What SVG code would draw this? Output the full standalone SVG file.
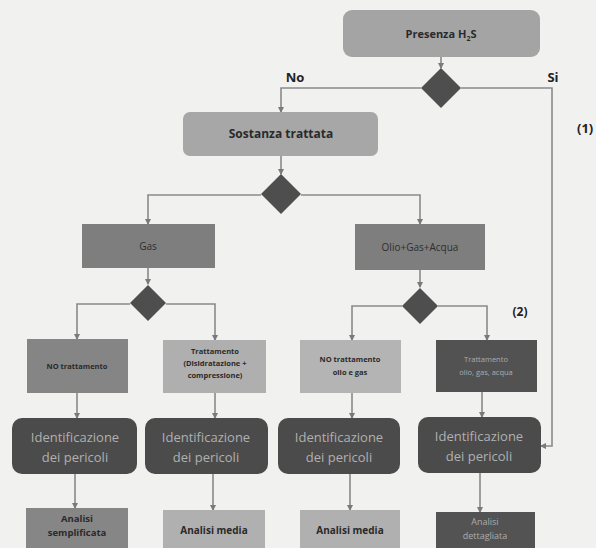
<svg xmlns="http://www.w3.org/2000/svg" width="596" height="548" viewBox="0 0 596 548">
<style>
  text { font-family: "Open Sans", "Liberation Sans", sans-serif; text-anchor: middle; }
  .b { font-weight: bold; fill: #2a2a2a; }
  .lt { fill: #acacac; }
  .idt { fill: #b0b0b0; font-size: 13px; }
  .dk { fill: #2e2e2e; }
  .conn { fill: none; stroke: #8a8a8a; stroke-width: 1.6; }
  .dia { fill: #4e4e4e; }
  .lbl { font-weight: bold; fill: #222; font-size: 13px; }
</style>
<defs>
  <marker id="arr" viewBox="0 0 6 6" refX="5" refY="3" markerWidth="4" markerHeight="4" orient="auto">
    <path d="M0,0 L6,3 L0,6 z" fill="#7a7a7a"/>
  </marker>
</defs>
<rect width="596" height="548" fill="#f1f1f0"/>

<g id="connectors">
  <line class="conn" x1="441" y1="57" x2="441" y2="68" marker-end="url(#arr)"/>
  <polyline class="conn" points="421,88 281,88 281,112" marker-end="url(#arr)"/>
  <polyline class="conn" points="461,88 552,88 552,446 541,446" marker-end="url(#arr)"/>
  <line class="conn" x1="281" y1="156" x2="281" y2="174" marker-end="url(#arr)"/>
  <polyline class="conn" points="261,195 148,195 148,224" marker-end="url(#arr)"/>
  <polyline class="conn" points="301,195 420,195 420,224" marker-end="url(#arr)"/>
  <line class="conn" x1="148" y1="268" x2="148" y2="284" marker-end="url(#arr)"/>
  <line class="conn" x1="420" y1="270" x2="420" y2="287" marker-end="url(#arr)"/>
  <polyline class="conn" points="130,304 77,304 77,339" marker-end="url(#arr)"/>
  <polyline class="conn" points="166,304 215,304 215,340" marker-end="url(#arr)"/>
  <polyline class="conn" points="402,306 352,306 352,340" marker-end="url(#arr)"/>
  <polyline class="conn" points="438,306 487,306 487,340" marker-end="url(#arr)"/>
  <line class="conn" x1="77" y1="393" x2="77" y2="418" marker-end="url(#arr)"/>
  <line class="conn" x1="215" y1="393" x2="215" y2="418" marker-end="url(#arr)"/>
  <line class="conn" x1="352" y1="393" x2="352" y2="418" marker-end="url(#arr)"/>
  <line class="conn" x1="482" y1="392" x2="482" y2="417" marker-end="url(#arr)"/>
  <line class="conn" x1="75" y1="474" x2="75" y2="508" marker-end="url(#arr)"/>
  <line class="conn" x1="213" y1="474" x2="213" y2="510" marker-end="url(#arr)"/>
  <line class="conn" x1="350" y1="474" x2="350" y2="510" marker-end="url(#arr)"/>
  <line class="conn" x1="480" y1="473" x2="480" y2="512" marker-end="url(#arr)"/>
  <text class="lbl" x="295" y="82">No</text>
  <text class="lbl" x="553" y="82">Si</text>
  <text class="lbl" x="577" y="133" style="text-anchor:start">(1)</text>
  <text class="lbl" x="520" y="316" style="font-size:12px">(2)</text>
</g>

<g id="presenza">
  <rect x="343" y="10" width="197" height="47" rx="9" fill="#a4a4a4"/>
  <text class="b" x="441" y="38" font-size="11">Presenza H<tspan font-size="7" dy="3">2</tspan><tspan dy="-3">S</tspan></text>
</g>
<g id="d1"><polygon class="dia" points="441,68 461,88 441,108 421,88"/></g>

<g id="sostanza">
  <rect x="183" y="112" width="195" height="44" rx="7" fill="#a7a7a7"/>
  <text class="b" x="281" y="138" font-size="12">Sostanza trattata</text>
</g>
<g id="d2"><polygon class="dia" points="281,174 301,194 281,214 261,194"/></g>

<g id="gas">
  <rect x="82" y="224" width="133" height="44" fill="#7e7e7e"/>
  <text class="dk" x="148" y="250" font-size="10">Gas</text>
</g>
<g id="olio">
  <rect x="355" y="224" width="130" height="46" fill="#7e7e7e"/>
  <text class="dk" x="420" y="251" font-size="10">Olio+Gas+Acqua</text>
</g>
<g id="d3"><polygon class="dia" points="148,285 166,303 148,321 130,303"/></g>
<g id="d4"><polygon class="dia" points="420,288 438,306 420,324 402,306"/></g>

<g id="notratt">
  <rect x="27" y="339" width="101" height="54" fill="#858585"/>
  <text class="b" x="77" y="369" font-size="7.5">NO trattamento</text>
</g>
<g id="tratt">
  <rect x="163" y="340" width="103" height="53" fill="#afafaf"/>
  <text class="b" font-size="7.5"><tspan x="215" y="354">Trattamento</tspan><tspan x="215" y="366">(Disidratazione +</tspan><tspan x="215" y="378">compressione)</tspan></text>
</g>
<g id="notratt2">
  <rect x="300" y="340" width="101" height="53" fill="#b4b4b4"/>
  <text class="b" font-size="7.5"><tspan x="350" y="362">NO trattamento</tspan><tspan x="350" y="375">olio e gas</tspan></text>
</g>
<g id="tratt2">
  <rect x="436" y="340" width="101" height="52" fill="#525252"/>
  <text class="lt" font-size="7.5"><tspan x="486" y="362">Trattamento</tspan><tspan x="486" y="375">olio, gas, acqua</tspan></text>
</g>

<g id="id1">
  <rect x="12" y="418" width="125" height="56" rx="10" fill="#4b4b4b"/>
  <text class="idt"><tspan x="75" y="442">Identificazione</tspan><tspan x="75" y="462">dei pericoli</tspan></text>
</g>
<g id="id2">
  <rect x="145" y="418" width="123" height="56" rx="10" fill="#4b4b4b"/>
  <text class="idt"><tspan x="206" y="442">Identificazione</tspan><tspan x="206" y="462">dei pericoli</tspan></text>
</g>
<g id="id3">
  <rect x="278" y="418" width="122" height="56" rx="10" fill="#4b4b4b"/>
  <text class="idt"><tspan x="339" y="442">Identificazione</tspan><tspan x="339" y="462">dei pericoli</tspan></text>
</g>
<g id="id4">
  <rect x="418" y="417" width="123" height="56" rx="10" fill="#4b4b4b"/>
  <text class="idt"><tspan x="479" y="441">Identificazione</tspan><tspan x="479" y="461">dei pericoli</tspan></text>
</g>

<g id="an1">
  <rect x="26" y="508" width="102" height="44" fill="#868686"/>
  <text class="b" font-size="9.5"><tspan x="77" y="522">Analisi</tspan><tspan x="77" y="536">semplificata</tspan></text>
</g>
<g id="an2">
  <rect x="163" y="510" width="102" height="42" fill="#b0b0b0"/>
  <text class="b" x="214" y="534" font-size="10">Analisi media</text>
</g>
<g id="an3">
  <rect x="300" y="510" width="100" height="42" fill="#b0b0b0"/>
  <text class="b" x="350" y="534" font-size="10">Analisi media</text>
</g>
<g id="an4">
  <rect x="436" y="512" width="99" height="40" fill="#535353"/>
  <text class="lt" font-size="9"><tspan x="485" y="525">Analisi</tspan><tspan x="485" y="539">dettagliata</tspan></text>
</g>
</svg>
